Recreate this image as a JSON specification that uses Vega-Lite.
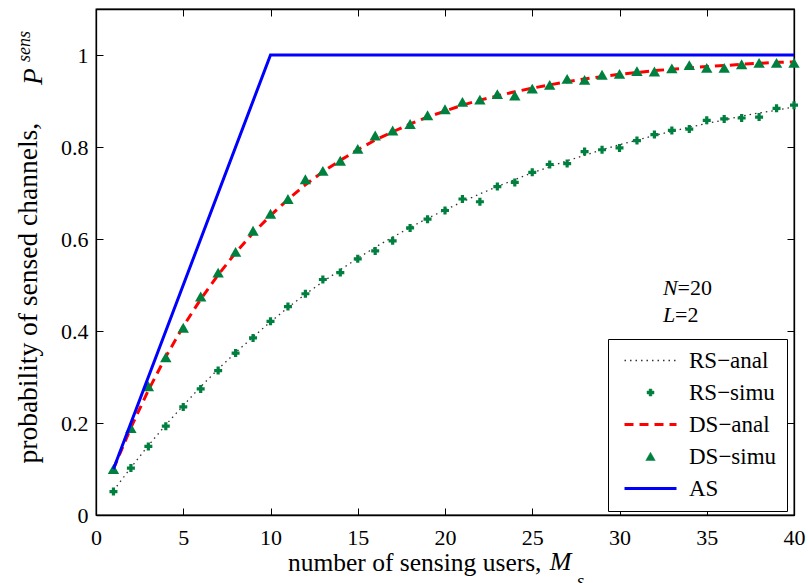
{
  "$schema": "https://vega.github.io/schema/vega-lite/v6.json",
  "width": 698,
  "height": 506,
  "autosize": {"type": "none"},
  "padding": {"left": 96, "top": 9, "right": 14, "bottom": 68},
  "background": "white",
  "datasets": {
    "sensing": [
      {"M": 1, "rs_anal": 0.053, "rs_simu": 0.051, "ds_anal": 0.100, "ds_simu": 0.100},
      {"M": 2, "rs_anal": 0.103, "rs_simu": 0.102, "ds_anal": 0.190, "ds_simu": 0.189},
      {"M": 3, "rs_anal": 0.151, "rs_simu": 0.149, "ds_anal": 0.271, "ds_simu": 0.280},
      {"M": 4, "rs_anal": 0.196, "rs_simu": 0.193, "ds_anal": 0.344, "ds_simu": 0.343},
      {"M": 5, "rs_anal": 0.238, "rs_simu": 0.235, "ds_anal": 0.410, "ds_simu": 0.407},
      {"M": 6, "rs_anal": 0.279, "rs_simu": 0.274, "ds_anal": 0.469, "ds_simu": 0.475},
      {"M": 7, "rs_anal": 0.317, "rs_simu": 0.314, "ds_anal": 0.522, "ds_simu": 0.527},
      {"M": 8, "rs_anal": 0.353, "rs_simu": 0.352, "ds_anal": 0.570, "ds_simu": 0.572},
      {"M": 9, "rs_anal": 0.387, "rs_simu": 0.385, "ds_anal": 0.613, "ds_simu": 0.618},
      {"M": 10, "rs_anal": 0.420, "rs_simu": 0.421, "ds_anal": 0.651, "ds_simu": 0.655},
      {"M": 11, "rs_anal": 0.451, "rs_simu": 0.453, "ds_anal": 0.686, "ds_simu": 0.687},
      {"M": 12, "rs_anal": 0.480, "rs_simu": 0.481, "ds_anal": 0.718, "ds_simu": 0.730},
      {"M": 13, "rs_anal": 0.507, "rs_simu": 0.512, "ds_anal": 0.746, "ds_simu": 0.748},
      {"M": 14, "rs_anal": 0.533, "rs_simu": 0.527, "ds_anal": 0.771, "ds_simu": 0.770},
      {"M": 15, "rs_anal": 0.558, "rs_simu": 0.557, "ds_anal": 0.794, "ds_simu": 0.796},
      {"M": 16, "rs_anal": 0.582, "rs_simu": 0.574, "ds_anal": 0.815, "ds_simu": 0.825},
      {"M": 17, "rs_anal": 0.604, "rs_simu": 0.596, "ds_anal": 0.833, "ds_simu": 0.836},
      {"M": 18, "rs_anal": 0.625, "rs_simu": 0.624, "ds_anal": 0.850, "ds_simu": 0.850},
      {"M": 19, "rs_anal": 0.645, "rs_simu": 0.643, "ds_anal": 0.865, "ds_simu": 0.869},
      {"M": 20, "rs_anal": 0.663, "rs_simu": 0.662, "ds_anal": 0.878, "ds_simu": 0.882},
      {"M": 21, "rs_anal": 0.681, "rs_simu": 0.687, "ds_anal": 0.891, "ds_simu": 0.898},
      {"M": 22, "rs_anal": 0.698, "rs_simu": 0.681, "ds_anal": 0.902, "ds_simu": 0.903},
      {"M": 23, "rs_anal": 0.714, "rs_simu": 0.714, "ds_anal": 0.911, "ds_simu": 0.915},
      {"M": 24, "rs_anal": 0.729, "rs_simu": 0.723, "ds_anal": 0.920, "ds_simu": 0.912},
      {"M": 25, "rs_anal": 0.744, "rs_simu": 0.745, "ds_anal": 0.928, "ds_simu": 0.927},
      {"M": 26, "rs_anal": 0.757, "rs_simu": 0.762, "ds_anal": 0.935, "ds_simu": 0.935},
      {"M": 27, "rs_anal": 0.770, "rs_simu": 0.764, "ds_anal": 0.942, "ds_simu": 0.948},
      {"M": 28, "rs_anal": 0.782, "rs_simu": 0.790, "ds_anal": 0.948, "ds_simu": 0.946},
      {"M": 29, "rs_anal": 0.794, "rs_simu": 0.794, "ds_anal": 0.953, "ds_simu": 0.957},
      {"M": 30, "rs_anal": 0.805, "rs_simu": 0.798, "ds_anal": 0.958, "ds_simu": 0.959},
      {"M": 31, "rs_anal": 0.815, "rs_simu": 0.814, "ds_anal": 0.962, "ds_simu": 0.965},
      {"M": 32, "rs_anal": 0.825, "rs_simu": 0.827, "ds_anal": 0.966, "ds_simu": 0.964},
      {"M": 33, "rs_anal": 0.834, "rs_simu": 0.836, "ds_anal": 0.969, "ds_simu": 0.971},
      {"M": 34, "rs_anal": 0.843, "rs_simu": 0.839, "ds_anal": 0.972, "ds_simu": 0.978},
      {"M": 35, "rs_anal": 0.851, "rs_simu": 0.858, "ds_anal": 0.975, "ds_simu": 0.972},
      {"M": 36, "rs_anal": 0.859, "rs_simu": 0.861, "ds_anal": 0.977, "ds_simu": 0.972},
      {"M": 37, "rs_anal": 0.867, "rs_simu": 0.863, "ds_anal": 0.980, "ds_simu": 0.980},
      {"M": 38, "rs_anal": 0.874, "rs_simu": 0.865, "ds_anal": 0.982, "ds_simu": 0.983},
      {"M": 39, "rs_anal": 0.880, "rs_simu": 0.884, "ds_anal": 0.984, "ds_simu": 0.983},
      {"M": 40, "rs_anal": 0.887, "rs_simu": 0.891, "ds_anal": 0.985, "ds_simu": 0.983}
    ],
    "as_curve": [
      {"M": 1, "P": 0.1},
      {"M": 10, "P": 1.0},
      {"M": 40, "P": 1.0}
    ],
    "series": [
      {"series": "RS−anal"},
      {"series": "RS−simu"},
      {"series": "DS−anal"},
      {"series": "DS−simu"},
      {"series": "AS"}
    ]
  },
  "layer": [
    {
      "data": {"name": "sensing"},
      "mark": {"type": "line", "color": "#333333", "strokeWidth": 1.3, "strokeDash": [1.5, 4]},
      "encoding": {
        "x": {
          "field": "M", "type": "quantitative",
          "scale": {"domain": [0, 40], "nice": false},
          "axis": {
            "orient": "bottom", "values": [0, 5, 10, 15, 20, 25, 30, 35, 40],
            "grid": false, "tickSize": -7, "tickColor": "black", "tickWidth": 1,
            "domainColor": "black", "domainWidth": 1.3,
            "labelPadding": 19, "labelFontSize": 22, "labelColor": "black", "labelFlush": false,
            "title": "number of sensing users,", "titleFontSize": 25.5, "titleFontWeight": "normal",
            "titleColor": "black", "titleX": 445, "titleY": 55, "titleAlign": "right", "titleBaseline": "alphabetic"
          }
        },
        "y": {
          "field": "rs_anal", "type": "quantitative",
          "scale": {"domain": [0, 1.1], "nice": false},
          "axis": {
            "orient": "left", "values": [0, 0.2, 0.4, 0.6, 0.8, 1], "format": "~g",
            "grid": false, "tickSize": -7, "tickColor": "black", "tickWidth": 1,
            "domainColor": "black", "domainWidth": 1.3,
            "labelPadding": 15, "labelFontSize": 22, "labelColor": "black", "labelFlush": false,
            "title": "probability of sensed channels,", "titleFontSize": 27.5, "titleFontWeight": "normal",
            "titleColor": "black", "titleAngle": 270, "titleAlign": "left", "titleBaseline": "alphabetic",
            "titleX": -60, "titleY": 454
          }
        }
      }
    },
    {
      "data": {"name": "sensing"},
      "mark": {"type": "point", "shape": "cross", "filled": true, "color": "#00803f", "size": 64, "opacity": 1},
      "encoding": {
        "x": {"field": "M", "type": "quantitative", "axis": null},
        "y": {"field": "rs_simu", "type": "quantitative", "axis": null}
      }
    },
    {
      "data": {"name": "sensing"},
      "mark": {"type": "line", "color": "#ff0000", "strokeWidth": 3, "strokeDash": [9, 6]},
      "encoding": {
        "x": {"field": "M", "type": "quantitative", "axis": null},
        "y": {"field": "ds_anal", "type": "quantitative", "axis": null}
      }
    },
    {
      "data": {"name": "sensing"},
      "mark": {"type": "point", "shape": "triangle-up", "filled": true, "color": "#00803f", "size": 130, "opacity": 1},
      "encoding": {
        "x": {"field": "M", "type": "quantitative", "axis": null},
        "y": {"field": "ds_simu", "type": "quantitative", "axis": null}
      }
    },
    {
      "data": {"name": "as_curve"},
      "mark": {"type": "line", "color": "#0000ff", "strokeWidth": 3},
      "encoding": {
        "x": {
          "field": "M", "type": "quantitative",
          "axis": {
            "orient": "top", "values": [0, 5, 10, 15, 20, 25, 30, 35, 40], "labels": false, "title": null,
            "grid": false, "tickSize": -7, "tickColor": "black", "tickWidth": 1,
            "domainColor": "black", "domainWidth": 1.3
          }
        },
        "y": {
          "field": "P", "type": "quantitative",
          "axis": {
            "orient": "right", "values": [0, 0.2, 0.4, 0.6, 0.8, 1], "labels": false, "title": null,
            "grid": false, "tickSize": -7, "tickColor": "black", "tickWidth": 1,
            "domainColor": "black", "domainWidth": 1.3
          }
        }
      }
    },
    {
      "data": {"values": [{}]},
      "mark": {"type": "text", "text": "N", "fontStyle": "italic", "fontSize": 22, "align": "left", "baseline": "alphabetic", "color": "black"},
      "encoding": {
        "x": {"datum": 32.49, "type": "quantitative", "axis": null},
        "y": {"datum": 0.478, "type": "quantitative", "axis": null}
      }
    },
    {
      "data": {"values": [{}]},
      "mark": {"type": "text", "text": "=20", "fontSize": 22, "align": "left", "baseline": "alphabetic", "color": "black"},
      "encoding": {
        "x": {"datum": 33.33, "type": "quantitative", "axis": null},
        "y": {"datum": 0.478, "type": "quantitative", "axis": null}
      }
    },
    {
      "data": {"values": [{}]},
      "mark": {"type": "text", "text": "L", "fontStyle": "italic", "fontSize": 22, "align": "left", "baseline": "alphabetic", "color": "black"},
      "encoding": {
        "x": {"datum": 32.49, "type": "quantitative", "axis": null},
        "y": {"datum": 0.42, "type": "quantitative", "axis": null}
      }
    },
    {
      "data": {"values": [{}]},
      "mark": {"type": "text", "text": "=2", "fontSize": 22, "align": "left", "baseline": "alphabetic", "color": "black"},
      "encoding": {
        "x": {"datum": 33.18, "type": "quantitative", "axis": null},
        "y": {"datum": 0.42, "type": "quantitative", "axis": null}
      }
    },
    {
      "data": {"values": [{}]},
      "mark": {"type": "text", "text": "M", "fontStyle": "italic", "fontSize": 26, "align": "left", "baseline": "alphabetic", "color": "black"},
      "encoding": {
        "x": {"datum": 26.0, "type": "quantitative", "axis": null},
        "y": {"datum": -0.1196, "type": "quantitative", "axis": null}
      }
    },
    {
      "data": {"values": [{}]},
      "mark": {"type": "text", "text": "s", "fontStyle": "italic", "fontSize": 19, "align": "left", "baseline": "alphabetic", "color": "black"},
      "encoding": {
        "x": {"datum": 27.55, "type": "quantitative", "axis": null},
        "y": {"datum": -0.156, "type": "quantitative", "axis": null}
      }
    },
    {
      "data": {"values": [{}]},
      "mark": {"type": "text", "text": "P", "fontStyle": "italic", "fontSize": 27.5, "angle": 270, "align": "left", "baseline": "alphabetic", "color": "black"},
      "encoding": {
        "x": {"datum": -3.1, "type": "quantitative", "axis": null},
        "y": {"datum": 0.935, "type": "quantitative", "axis": null}
      }
    },
    {
      "data": {"values": [{}]},
      "mark": {"type": "text", "text": "sens", "fontStyle": "italic", "fontSize": 18, "angle": 270, "align": "left", "baseline": "alphabetic", "color": "black"},
      "encoding": {
        "x": {"datum": -3.79, "type": "quantitative", "axis": null},
        "y": {"datum": 0.985, "type": "quantitative", "axis": null}
      }
    },
    {
      "data": {"name": "series"},
      "mark": {"type": "point", "filled": true, "opacity": 0},
      "encoding": {
        "shape": {
          "field": "series", "type": "nominal",
          "scale": {"domain": ["RS−anal", "RS−simu", "DS−anal", "DS−simu", "AS"],
                    "range": ["M-5.2,0H5.2",
                              "M-0.7,-0.28H-0.28V-0.7H0.28V-0.28H0.7V0.28H0.28V0.7H-0.28V0.28H-0.7Z",
                              "M-5.2,0H5.2",
                              "M0,-0.85L0.95,0.8H-0.95Z",
                              "M-5.2,0H5.2"]},
          "legend": {"title": null, "encode": {"symbols": {"update": {"strokeWidth": {"signal": "datum.value === 'RS−anal' ? 1.3 : (datum.value === 'DS−anal' || datum.value === 'AS') ? 3 : 0.5"}}}}}
        },
        "fill": {
          "field": "series", "type": "nominal",
          "scale": {"domain": ["RS−anal", "RS−simu", "DS−anal", "DS−simu", "AS"],
                    "range": ["transparent", "#00803f", "transparent", "#00803f", "transparent"]},
          "legend": {"title": null, "encode": {"symbols": {"update": {"strokeWidth": {"signal": "datum.value === 'RS−anal' ? 1.3 : (datum.value === 'DS−anal' || datum.value === 'AS') ? 3 : 0.5"}}}}}
        },
        "stroke": {
          "field": "series", "type": "nominal",
          "scale": {"domain": ["RS−anal", "RS−simu", "DS−anal", "DS−simu", "AS"],
                    "range": ["#333333", "#00803f", "#ff0000", "#00803f", "#0000ff"]},
          "legend": {"title": null, "encode": {"symbols": {"update": {"strokeWidth": {"signal": "datum.value === 'RS−anal' ? 1.3 : (datum.value === 'DS−anal' || datum.value === 'AS') ? 3 : 0.5"}}}}}
        },
        "strokeDash": {
          "field": "series", "type": "nominal",
          "scale": {"domain": ["RS−anal", "RS−simu", "DS−anal", "DS−simu", "AS"],
                    "range": [[1.5, 4], [1, 0], [9, 6], [1, 0], [1, 0]]},
          "legend": {"title": null, "encode": {"symbols": {"update": {"strokeWidth": {"signal": "datum.value === 'RS−anal' ? 1.3 : (datum.value === 'DS−anal' || datum.value === 'AS') ? 3 : 0.5"}}}}}
        }
      }
    }
  ],
  "resolve": {"axis": {"x": "independent", "y": "independent"}},
  "config": {
    "font": "Liberation Serif",
    "view": {"stroke": "black", "strokeWidth": 1.3},
    "legend": {
      "orient": "none", "legendX": 512, "legendY": 330,
      "padding": 10, "strokeColor": "black", "fillColor": "white",
      "labelFont": "Liberation Serif", "labelFontSize": 23, "labelColor": "black",
      "symbolSize": 100, "symbolOffset": 21, "labelOffset": 27, "rowPadding": 8,
      "symbolOpacity": 1
    }
  }
}
